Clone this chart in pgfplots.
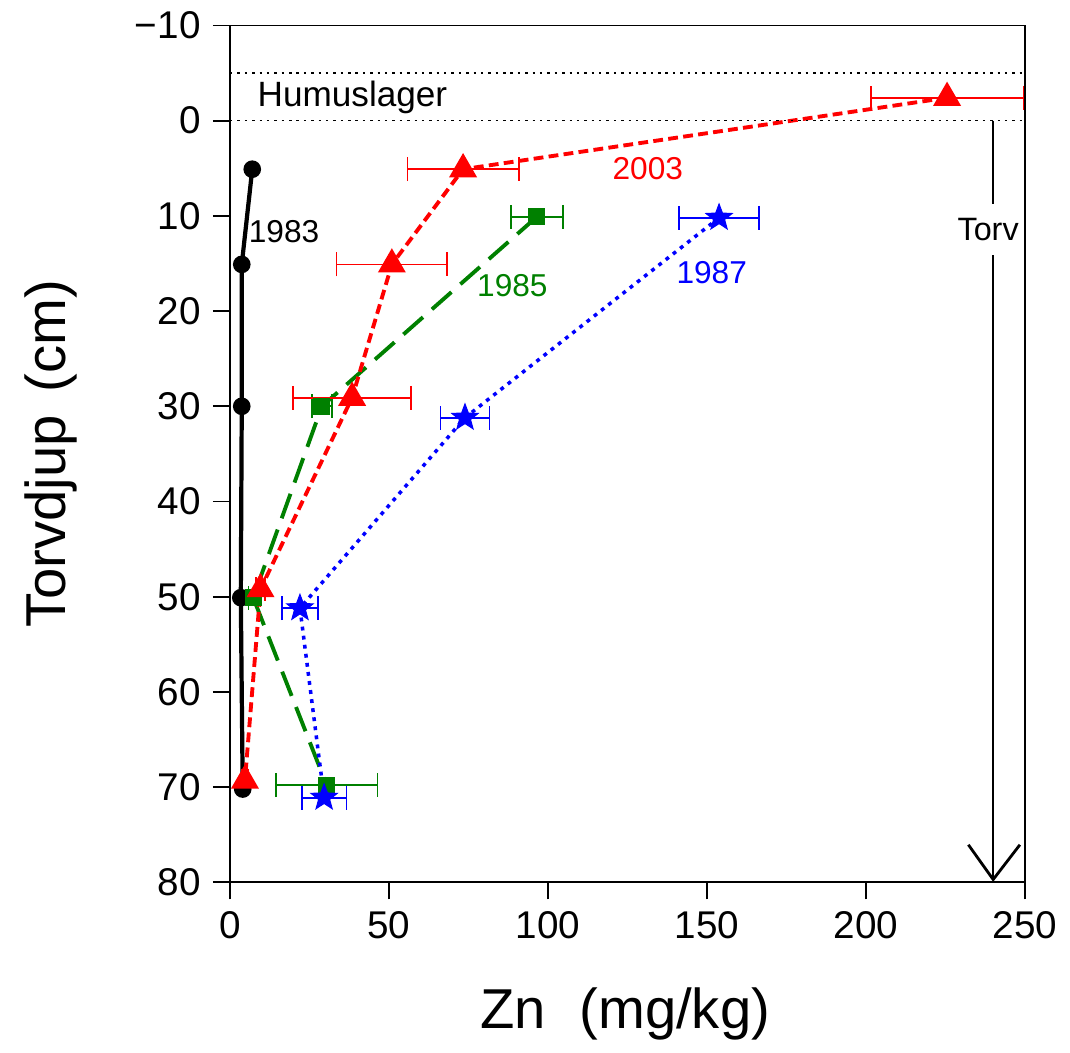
\documentclass[border=0pt]{standalone}
\usepackage{fontspec}
\setmainfont{Liberation Sans}
\usepackage{pgfplots}
\pgfplotsset{compat=1.18}
\definecolor{zgreen}{RGB}{0,128,0}

% filled five-pointed star
\pgfdeclareplotmark{fstar}{%
  \pgfpathmoveto{\pgfpointpolar{90}{\pgfplotmarksize}}%
  \pgfpathlineto{\pgfpointpolar{126}{0.42\pgfplotmarksize}}%
  \pgfpathlineto{\pgfpointpolar{162}{\pgfplotmarksize}}%
  \pgfpathlineto{\pgfpointpolar{198}{0.42\pgfplotmarksize}}%
  \pgfpathlineto{\pgfpointpolar{234}{\pgfplotmarksize}}%
  \pgfpathlineto{\pgfpointpolar{270}{0.42\pgfplotmarksize}}%
  \pgfpathlineto{\pgfpointpolar{306}{\pgfplotmarksize}}%
  \pgfpathlineto{\pgfpointpolar{342}{0.42\pgfplotmarksize}}%
  \pgfpathlineto{\pgfpointpolar{18}{\pgfplotmarksize}}%
  \pgfpathlineto{\pgfpointpolar{54}{0.42\pgfplotmarksize}}%
  \pgfpathclose
  \pgfusepathqfillstroke}

\begin{document}
\begin{tikzpicture}
\begin{axis}[
  scale only axis, width=7.95cm, height=8.57cm,
  xmin=0, xmax=250, ymin=-10, ymax=80, y dir=reverse,
  xtick={0,50,...,250}, ytick={-10,0,...,80},
  yticklabels={−10,0,10,20,30,40,50,60,70,80},
  tick align=outside, xtick pos=bottom, ytick pos=left,
  major tick length=0.17cm,
  axis line style={line width=0.5pt},
  tick style={line width=0.5pt, black},
  ticklabel style={font=\fontsize{11}{13}\selectfont},
  /pgf/number format/assume math mode=true,
  xlabel={Zn\hspace{0.6em}(mg/kg)},
  ylabel={Torvdjup\hspace{0.4em}(cm)},
  label style={font=\fontsize{16}{19}\selectfont},
  xlabel style={at={(axis description cs:0.497,-0.154)}, anchor=center},
  ylabel style={at={(axis description cs:-0.225,0.5)}, anchor=center},
  clip=false,
  error bars/error bar style={solid, line width=0.5pt},
  error bars/error mark options={solid, rotate=90, mark size=3.4pt, line width=0.5pt},
]

% 1983
\addplot[black, line width=1.2pt, mark=*, mark size=1.9pt]
  coordinates {(7.0,5.1) (3.7,15.1) (3.7,30.0) (3.4,50.1) (4.0,70.2)};

% 1985
\addplot[zgreen, line width=1.1pt, dash pattern=on 7.4pt off 3.4pt,
  mark=square*, mark size=1.85pt, mark options={solid},
  error bars/.cd, x dir=both, x explicit]
  coordinates {(96.5,10.1) +- (8.2,0) (28.9,30.0) +- (3.2,0)
               (7.3,50.1) +- (1.5,0) (30.4,69.8) +- (16,0)};

% 2003
\addplot[red, line width=1.1pt, dash pattern=on 2.8pt off 1.5pt,
  mark=triangle*, mark size=3.5pt, mark options={solid},
  error bars/.cd, x dir=both, x explicit]
  coordinates {(225.5,-2.4) +- (24,0) (73.3,5.1) +- (17.5,0)
               (50.9,15.1) +- (17.4,0) (38.4,29.1) +- (18.5,0)
               (9.6,49.2) +- (1.5,0) (4.7,69.3) +- (1,0)};

% 1987
\addplot[blue, line width=1pt, dash pattern=on 1.1pt off 1.5pt,
  mark=fstar, mark size=3.9pt, mark options={solid, fill=blue, line width=0.3pt},
  error bars/.cd, x dir=both, x explicit]
  coordinates {(153.8,10.2) +- (12.6,0) (73.9,31.2) +- (7.7,0)
               (22.0,51.2) +- (5.7,0) (29.6,71.1) +- (7,0)};

% layer lines and arrow
\draw[black, line width=0.45pt, dash pattern=on 0.7pt off 1.4pt]
  (axis cs:0,-5) -- (axis cs:250,-5);
\draw[black, line width=0.45pt, dash pattern=on 0.7pt off 1.4pt]
  (axis cs:0,0) -- (axis cs:250,0);
\node[anchor=west, inner sep=0pt, font=\fontsize{10}{12}\selectfont]
  at (axis cs:8.5,-2.4) {Humuslager};
\draw[black, line width=0.45pt] (axis cs:240,0) -- (axis cs:240,79.7);
\draw[black, line width=0.8pt] (axis cs:232.2,76.05) -- (axis cs:240,79.7) -- (axis cs:248.4,76.05);
\node[fill=white, inner xsep=1pt, inner ysep=4pt, font=\fontsize{9.2}{11}\selectfont]
  at (axis cs:238.4,11.4) {Torv};

% year labels
\node[font=\fontsize{9}{11}\selectfont, black] at (axis cs:17,11.7) {1983};
\node[font=\fontsize{9}{11}\selectfont, zgreen] at (axis cs:88.8,17.3) {1985};
\node[font=\fontsize{9}{11}\selectfont, red] at (axis cs:131.4,5.0) {2003};
\node[font=\fontsize{9}{11}\selectfont, blue] at (axis cs:151.5,16.0) {1987};

\end{axis}
\path (current axis.south west) ++(-2.30cm,-1.66cm) rectangle ++(10.70cm,10.46cm);
\end{tikzpicture}
\end{document}
